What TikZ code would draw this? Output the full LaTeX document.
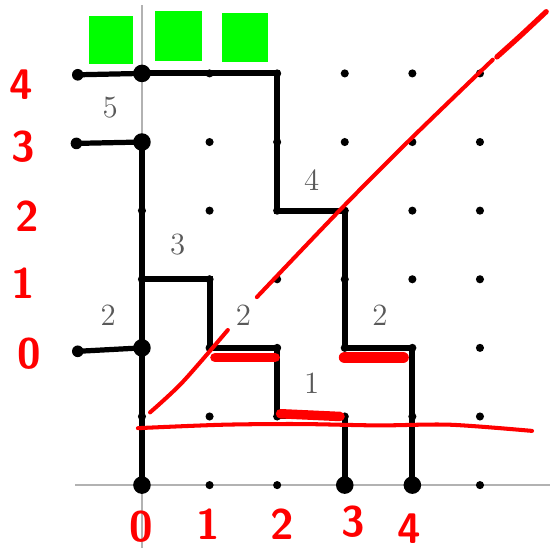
\documentclass[tikz,border=0pt]{standalone}
\usepackage{tikz}
\usetikzlibrary{calc}
\definecolor{penred}{RGB}{255,0,0}
\definecolor{hlgreen}{RGB}{0,255,0}
\begin{document}
\begin{tikzpicture}[
    x=1cm, y=1.015cm,
    axis/.style={gray!60, line width=0.8pt},
    smalldot/.style={circle, fill=black, inner sep=0pt, minimum size=1.2mm},
    bigdot/.style={circle, fill=black, inner sep=0pt, minimum size=2.6mm},
    lattice/.style={line width=2.5pt, line join=miter, line cap=rect},
    marker/.style={line width=2.2pt, line cap=round},
    count/.style={font=\fontsize{13}{15}\selectfont, text=black!65},
    penline/.style={penred, line width=1.7pt, line cap=round},
    penblob/.style={penred, line width=4pt, line cap=round},
    pennum/.style={font=\fontsize{18}{20}\selectfont\sffamily\bfseries, text=penred}
  ]
    \useasboundingbox (-2.10,-0.918) rectangle (6.036,7.07);

    % grid coordinates
    \foreach \i in {0,...,5}
      \foreach \j in {0,...,6}
        \coordinate (g-\i-\j) at (\i,\j);

    % axes
    \coordinate (xa) at (-0.99,0);
    \coordinate (xb) at (6.036,0);
    \coordinate (ya) at (0,-0.918);
    \coordinate (yb) at (0,7.0);
    \draw[axis] (xa) -- (xb);
    \draw[axis] (ya) -- (yb);

    % green boxes on top
    \fill[hlgreen] (-0.78,6.14) rectangle (-0.13,6.84);
    \fill[hlgreen] (0.19,6.18) rectangle (0.89,6.91);
    \fill[hlgreen] (1.18,6.17) rectangle (1.86,6.88);

    % the two lattice paths
    \draw[lattice] (g-0-0) -- (g-0-5);
    \draw[lattice] (g-0-3) -- (g-1-3) -- (g-1-2) -- (g-2-2) -- (g-2-1) -- (g-3-1) -- (g-3-0);
    \draw[lattice] (g-0-6) -- (g-2-6) -- (g-2-4) -- (g-3-4) -- (g-3-2) -- (g-4-2) -- (g-4-0);

    % dots
    \foreach \i in {0,...,5}
      \foreach \j in {0,...,6}
        \node[smalldot] (d-\i-\j) at (g-\i-\j) {};
    \foreach \p in {0-0, 3-0, 4-0, 0-2, 0-5, 0-6}
      \node[bigdot] (b-\p) at (g-\p) {};

    % region counts
    \node[count] (n5) at (-0.47,5.5) {5};
    \node[count] (n4) at (2.51,4.45) {4};
    \node[count] (n3) at (0.53,3.5) {3};
    \node[count] (n2a) at (-0.5,2.48) {2};
    \node[count] (n2b) at (1.5,2.48) {2};
    \node[count] (n2c) at (3.52,2.48) {2};
    \node[count] (n1) at (2.51,1.49) {1};

    % black ticks at the left
    \coordinate (t6) at (-0.95,5.98);
    \coordinate (t5) at (-0.97,4.98);
    \coordinate (t2) at (-0.95,1.95);
    \foreach \t/\e in {t6/g-0-6, t5/g-0-5, t2/g-0-2} {
      \draw[marker] (\t) -- (\e);
      \fill (\t) circle (0.085);
    }

    % red pen: numbers
    \node[pennum] (r4) at (-1.79,5.83) {4};
    \node[pennum] (r3) at (-1.76,4.93) {3};
    \node[pennum] (r2) at (-1.70,3.92) {2};
    \node[pennum] (r1) at (-1.76,2.94) {1};
    \node[pennum] (r0) at (-1.66,1.92) {0};
    \node[pennum] (c0) at (-0.01,-0.61) {0};
    \node[pennum] (c1) at (0.98,-0.57) {1};
    \node[pennum] (c2) at (2.07,-0.57) {2};
    \node[pennum] (c3) at (3.12,-0.54) {3};
    \node[pennum] (c4) at (3.96,-0.63) {4};

    % red pen: lines
    \draw[penline] plot[smooth] coordinates {(-0.06,0.83) (1.2,0.88) (2.34,0.89) (3.5,0.87) (4.56,0.88) (5.77,0.79)};
    \draw[penline] plot[smooth] coordinates {(0.12,1.06) (0.6,1.5) (1.27,2.26)};
    \draw[penline] plot[smooth] coordinates {(1.70,2.74) (2.93,4.01) (3.96,5.03) (5.19,6.20)};
    \draw[penline, line width=2.2pt] plot[smooth] coordinates {(5.25,6.24) (5.6,6.55) (5.98,6.90)};
    \draw[penblob] (1.08,1.86) -- (1.97,1.86);
    \draw[penblob, line width=5pt] (3.00,1.86) -- (3.86,1.86);
    \draw[penblob] (2.05,1.04) -- (2.93,1.0);
  \end{tikzpicture}
\end{document}
